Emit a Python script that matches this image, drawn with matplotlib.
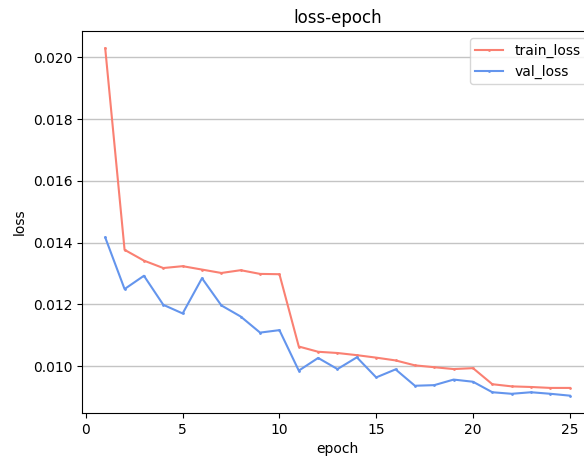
import matplotlib
matplotlib.use("Agg")
import matplotlib.pyplot as plt

epochs = list(range(1, 26))
train_loss = [
    0.02029, 0.01377, 0.01342, 0.01318, 0.01324, 0.01313, 0.01302, 0.01311,
    0.01299, 0.01298, 0.01064, 0.01047, 0.01043, 0.01036, 0.01028, 0.01019,
    0.01003, 0.00997, 0.00991, 0.00994, 0.00942, 0.00935, 0.00933, 0.00930,
    0.00930,
]
val_loss = [
    0.01417, 0.01250, 0.01293, 0.01199, 0.01171, 0.01285, 0.01197, 0.01161,
    0.01109, 0.01117, 0.00986, 0.01027, 0.00991, 0.01029, 0.00964, 0.00990,
    0.00937, 0.00939, 0.00957, 0.00950, 0.00916, 0.00911, 0.00916, 0.00911,
    0.00905,
]

fig = plt.figure(figsize=(5.84, 4.59), dpi=100)
# axes run a little past the right edge, as in the cropped reference
ax = fig.add_axes([0.1404, 0.1002, 0.875, 0.8323])

ax.plot(epochs, train_loss, color="salmon", marker=".", markersize=2,
        linewidth=1.5, label="train_loss")
ax.plot(epochs, val_loss, color="cornflowerblue", marker=".", markersize=2,
        linewidth=1.5, label="val_loss")

ax.grid(axis="y", color="#c4c4c4", linewidth=1)
ax.set_xticks([0, 5, 10, 15, 20, 25])
ax.set_title("loss-epoch")
ax.set_xlabel("epoch")
ax.set_ylabel("loss")
ax.legend(loc="upper right")

fig.savefig("out.png", dpi=100)
